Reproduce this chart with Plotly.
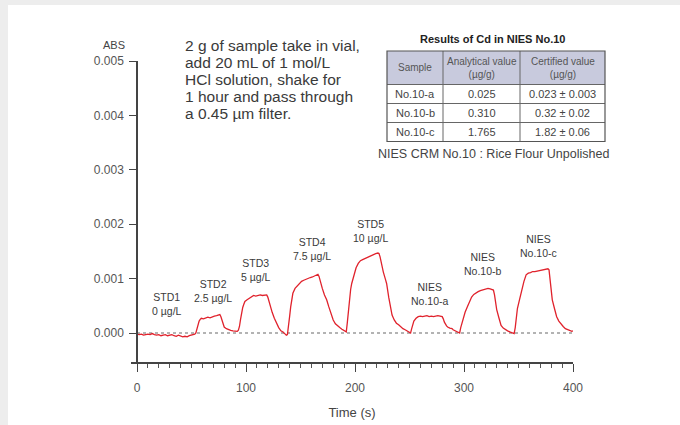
import plotly.graph_objects as go

# ---------------- data ----------------
time_s = [
    0, 2, 4, 6, 8, 10, 12, 14, 16, 18, 20, 22, 24, 26, 28, 30, 32, 34, 36, 38, 40, 42, 44, 46, 48, 50, 52, 53,
    54, 55, 56, 57, 58, 59, 61, 63, 65, 67, 69, 71, 73, 75, 76, 77, 78, 79, 80, 82, 84, 86, 88, 90, 92, 93,
    94, 95, 96, 97, 98, 99, 101, 103, 105, 107, 109, 111, 113, 115, 117, 119, 120, 121, 122, 124, 126, 128, 130, 132, 134, 136, 137, 138,
    139, 140, 141, 142, 143, 145, 147, 149, 151, 153, 155, 157, 159, 161, 163, 165, 166, 167, 168, 170, 172, 174, 176, 178, 180, 182, 184, 186, 188, 190, 192,
    193, 194, 195, 196, 197, 199, 201, 203, 205, 207, 209, 211, 213, 215, 217, 219, 221, 222, 223, 224, 226, 228, 229, 231, 233, 234, 236, 238, 240, 242, 244, 246, 248, 250, 251,
    252, 253, 254, 256, 258, 260, 262, 264, 266, 268, 270, 272, 274, 276, 278, 280, 281, 282, 284, 285, 287, 289, 290, 292, 294, 296,
    297, 299, 301, 303, 305, 307, 309, 311, 313, 315, 317, 319, 321, 322, 324, 326, 327, 328, 329, 330, 332, 334, 336, 338, 340, 342, 344, 346,
    347, 348, 349, 351, 353, 355, 357, 359, 361, 363, 365, 367, 369, 371, 373, 375, 377, 378, 379, 380, 381, 383, 385, 387, 389, 391, 393, 395, 397, 399, 400,
]

absorbance = [
    -0.00002, -0.00003, -0.00002, -0.00004, -0.00003, -0.00002, -0.00003, -0.00001, -0.00003, -0.00004, -0.00003, -0.00005, -0.00004, -0.00003,
    -0.00005, -0.00004, -0.00003, -0.00005, -0.00006, -0.00004, -0.00005, -0.00007, -0.00006, -0.00007, -0.00005, -0.00004, -0.00003, -0.00002,
    0.00000, 0.00008, 0.00016, 0.00022, 0.00025, 0.00027, 0.00026, 0.00028, 0.00029, 0.00028, 0.00030, 0.00031, 0.00032, 0.00033, 0.00034, 0.00030,
    0.00022, 0.00014, 0.00011, 0.00008, 0.00006, 0.00005, 0.00004, 0.00003, 0.00003, 0.00005,
    0.00012, 0.00025, 0.00038, 0.00047, 0.00053, 0.00058, 0.00061, 0.00064, 0.00067, 0.00069, 0.00068, 0.00069, 0.00070, 0.00069, 0.00070, 0.00070,
    0.00066, 0.00058, 0.00050, 0.00038, 0.00027, 0.00018, 0.00010, 0.00004, 0.00002, -0.00002, -0.00004, -0.00003,
    0.00010, 0.00030, 0.00048, 0.00062, 0.00073, 0.00082, 0.00087, 0.00091, 0.00095, 0.00097, 0.00099, 0.00100, 0.00102, 0.00103, 0.00105, 0.00107,
    0.00108, 0.00104, 0.00095, 0.00082, 0.00070, 0.00061, 0.00048, 0.00034, 0.00024, 0.00017, 0.00013, 0.00010, 0.00007, 0.00005, 0.00002,
    0.00020, 0.00045, 0.00065, 0.00080, 0.00091, 0.00108, 0.00120, 0.00128, 0.00133, 0.00135, 0.00137, 0.00139, 0.00141, 0.00142, 0.00145, 0.00146,
    0.00147, 0.00146, 0.00140, 0.00130, 0.00112, 0.00098, 0.00091, 0.00065, 0.00040, 0.00033, 0.00024, 0.00018, 0.00015, 0.00011, 0.00008, 0.00006,
    0.00004, 0.00001, 0.00000,
    0.00008, 0.00016, 0.00022, 0.00027, 0.00030, 0.00031, 0.00030, 0.00031, 0.00032, 0.00030, 0.00031, 0.00030, 0.00031, 0.00032, 0.00031, 0.00030,
    0.00026, 0.00020, 0.00013, 0.00011, 0.00009, 0.00008, 0.00006, 0.00004, 0.00002, 0.00000,
    0.00010, 0.00025, 0.00038, 0.00048, 0.00058, 0.00066, 0.00071, 0.00074, 0.00076, 0.00078, 0.00079, 0.00080, 0.00081, 0.00082, 0.00081, 0.00080,
    0.00079, 0.00070, 0.00055, 0.00043, 0.00028, 0.00014, 0.00009, 0.00006, 0.00004, 0.00002, 0.00001, -0.00001,
    0.00010, 0.00028, 0.00045, 0.00062, 0.00080, 0.00095, 0.00107, 0.00110, 0.00111, 0.00113, 0.00113, 0.00114, 0.00115, 0.00115, 0.00116, 0.00117,
    0.00118, 0.00116, 0.00100, 0.00078, 0.00061, 0.00045, 0.00030, 0.00022, 0.00016, 0.00012, 0.00008, 0.00006, 0.00004, 0.00003, 0.00004,
]

peak_labels = ["STD1<br>0 µg/L", "STD2<br>2.5 µg/L", "STD3<br>5 µg/L", "STD4<br>7.5 µg/L", "STD5<br>10 µg/L",
               "NIES<br>No.10-a", "NIES<br>No.10-b", "NIES<br>No.10-c"]
peak_label_time = [27.4, 69.8, 109.6, 160.7, 214, 268.8, 317, 368]
peak_label_abs = [0.000533, 0.000772, 0.001158, 0.001544, 0.001875, 0.000717, 0.001268, 0.0016]

x_tick_vals = [0, 100, 200, 300, 400]
y_tick_vals = [0.000, 0.001, 0.002, 0.003, 0.004, 0.005]
y_tick_text = ["0.000", "0.001", "0.002", "0.003", "0.004", "0.005"]

method_lines = ["2 g of sample take in vial,", "add 20 mL of 1 mol/L", "HCl solution, shake for",
                "1 hour and pass through", "a 0.45 µm filter."]

table_title = "Results of Cd in NIES No.10"
table_header = ["Sample", "Analytical value<br>(µg/g)", "Certified value<br>(µg/g)"]
table_samples = ["No.10-a", "No.10-b", "No.10-c"]
table_analytical = ["0.025", "0.310", "1.765"]
table_certified = ["0.023 ± 0.003", "0.32 ± 0.02", "1.82 ± 0.06"]
table_note = "NIES CRM No.10 : Rice Flour Unpolished"

# ---------------- layout helpers ----------------
W, H = 680, 425
ML, MR, MT, MB = 131, 107, 61, 63
PW, PH = W - ML - MR, H - MT - MB


def px(x):
    return (x - ML) / PW


def py(y):
    return (H - MB - y) / PH


FONT = "Liberation Sans, Arial, sans-serif"
TXT = "#3a3a3a"

fig = go.Figure()
fig.add_trace(go.Scatter(x=time_s, y=absorbance, mode="lines",
                         line=dict(color="#e0222c", width=1.3), hoverinfo="skip"))

shapes = []
annotations = []

# page frame (light gray strip on top/left)
shapes.append(dict(type="rect", xref="paper", yref="paper", x0=px(-10), x1=px(W + 10), y0=py(H + 10), y1=py(-10),
                   fillcolor="#ededed", line=dict(width=0), layer="below"))
shapes.append(dict(type="rect", xref="paper", yref="paper", x0=px(8), x1=px(W + 10), y0=py(H + 10), y1=py(5),
                   fillcolor="white", line=dict(width=0), layer="below"))

# dotted zero line
shapes.append(dict(type="line", xref="x", yref="y", x0=0, x1=400, y0=0, y1=0,
                   line=dict(color="#9a9a9a", width=1.3, dash="dot"), layer="below"))

# peak labels
for txt, t, a in zip(peak_labels, peak_label_time, peak_label_abs):
    annotations.append(dict(x=t, y=a, xref="x", yref="y", text=txt, showarrow=False,
                            xanchor="center", yanchor="middle",
                            font=dict(family=FONT, size=10.5, color=TXT)))

# ABS label
annotations.append(dict(x=px(114), y=py(45), xref="paper", yref="paper", text="ABS", showarrow=False,
                        xanchor="center", yanchor="middle", font=dict(family=FONT, size=11, color="#444")))

# method text
for i, line in enumerate(method_lines):
    annotations.append(dict(x=px(182.5), y=py(45 + i * 17.1), xref="paper", yref="paper", text=line,
                            showarrow=False, xanchor="left", yanchor="middle",
                            font=dict(family=FONT, size=15.5, color=TXT)))

# table
tx = [387, 443, 520, 605]
ty = [51, 84.5, 103.5, 122.5, 141.5]
shapes.append(dict(type="rect", xref="paper", yref="paper", x0=px(tx[0]), x1=px(tx[3]), y0=py(ty[1]), y1=py(ty[0]),
                   fillcolor="#c8cadd", line=dict(width=0)))
for yy in ty[1:4]:
    shapes.append(dict(type="line", xref="paper", yref="paper", x0=px(tx[0]), x1=px(tx[3]), y0=py(yy), y1=py(yy),
                       line=dict(color="#666", width=1)))
for xx in tx[1:3]:
    shapes.append(dict(type="line", xref="paper", yref="paper", x0=px(xx), x1=px(xx), y0=py(ty[4]), y1=py(ty[0]),
                       line=dict(color="#666", width=1)))
shapes.append(dict(type="rect", xref="paper", yref="paper", x0=px(tx[0]), x1=px(tx[3]), y0=py(ty[4]), y1=py(ty[0]),
                   line=dict(color="#555", width=1.2)))

annotations.append(dict(x=px(492), y=py(39), xref="paper", yref="paper", text="<b>" + table_title + "</b>",
                        showarrow=False, xanchor="center", yanchor="middle",
                        font=dict(family=FONT, size=11, color="#222")))
col_c = [(tx[i] + tx[i + 1]) / 2 for i in range(3)]
for c, h in zip(col_c, table_header):
    annotations.append(dict(x=px(c), y=py((ty[0] + ty[1]) / 2), xref="paper", yref="paper", text=h,
                            showarrow=False, xanchor="center", yanchor="middle",
                            font=dict(family=FONT, size=10, color="#555")))
for r, (s, a, cv) in enumerate(zip(table_samples, table_analytical, table_certified)):
    yc = (ty[r + 1] + ty[r + 2]) / 2
    for c, val in zip(col_c, [s, a, cv]):
        annotations.append(dict(x=px(c), y=py(yc), xref="paper", yref="paper", text=val,
                                showarrow=False, xanchor="center", yanchor="middle",
                                font=dict(family=FONT, size=11, color="#444")))
annotations.append(dict(x=px(376), y=py(154), xref="paper", yref="paper", text=table_note,
                        showarrow=False, xanchor="left", yanchor="middle",
                        font=dict(family=FONT, size=12.5, color="#444")))

fig.update_layout(
    width=W, height=H,
    margin=dict(l=ML, r=MR, t=MT, b=MB, pad=0, autoexpand=False),
    paper_bgcolor="white", plot_bgcolor="rgba(0,0,0,0)",
    showlegend=False,
    shapes=shapes, annotations=annotations,
    xaxis=dict(range=[-5.5, 400], tickvals=x_tick_vals, ticks="outside", ticklen=8, tickwidth=1.2,
               tickcolor="#444", showline=True, linecolor="#444", linewidth=1.5, showgrid=False,
               zeroline=False, automargin=False,
               minor=dict(dtick=10, tick0=0, ticks="outside", ticklen=4, tickcolor="#555",
                          tickwidth=1, showgrid=False),
               ticklabelstandoff=6,
               tickfont=dict(family=FONT, size=12, color="#555"),
               title=dict(text="Time (s)", font=dict(family=FONT, size=13, color="#444"), standoff=14)),
    yaxis=dict(range=[-0.000533, 0.005], tickvals=y_tick_vals, ticktext=y_tick_text, ticks="outside",
               ticklen=7, tickwidth=1.2, tickcolor="#444", showline=True, linecolor="#444", linewidth=1.5,
               showgrid=False, zeroline=False, anchor="free", position=5.5 / 405.5, automargin=False,
               ticklabelstandoff=3,
               tickfont=dict(family=FONT, size=12, color="#555")),
)

fig.write_html("out.html", config={"displayModeBar": False},
               post_script="document.body.style.margin='0';document.body.style.overflow='hidden';")
